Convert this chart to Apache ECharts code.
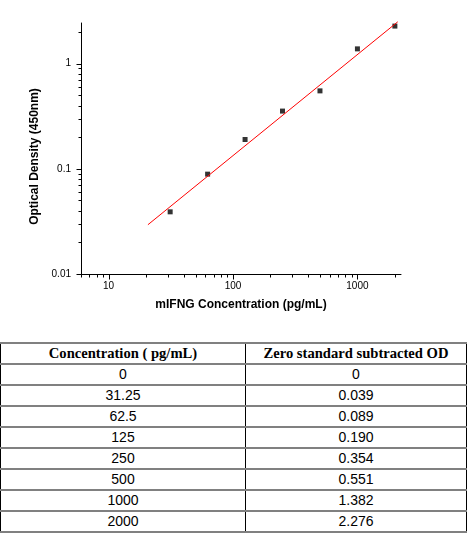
<!DOCTYPE html>
<html>
<head>
<meta charset="utf-8">
<script src="https://cdn.jsdelivr.net/npm/echarts@6/dist/echarts.min.js"></script>
<style>
body { margin: 0; background: #fff; }
#chart { position: absolute; left: 0; top: 0; width: 468px; height: 335px; }
#tab { position: absolute; left: 0; top: 342px; border-collapse: collapse; font-family: "Liberation Sans", Arial, sans-serif; font-size: 14px; color: #000; }
#tab td { height: 19px; padding: 0; text-align: center; border-top: 2px solid #808080; border-bottom: 2px solid #808080; border-left: 1px solid #000; border-right: 1px solid #000; line-height: 19px; }
#tab tr.head td { font-family: "Liberation Serif", "Times New Roman", serif; font-weight: bold; font-size: 14.6px; }
</style>
</head>
<body>
<div id="chart"></div>
<table id="tab"></table>
<script>
// standard curve data
var conc = [0, 31.25, 62.5, 125, 250, 500, 1000, 2000];
var od = [0, 0.039, 0.089, 0.190, 0.354, 0.551, 1.382, 2.276];
// fitted line end points
var fitX = [20.7, 2110];
var fitY = [0.0294, 2.5];
var headers = ['Concentration ( pg/mL)', 'Zero standard subtracted OD'];
var xMin = 6, xMax = 2240;
var yMin = 0.01, yMax = 2.435;

var points = [];
for (var i = 0; i < conc.length; i++) {
    if (conc[i] > 0) points.push([conc[i], od[i]]);
}
var fitLine = [[fitX[0], fitY[0]], [fitX[1], fitY[1]]];

var myChart = echarts.init(document.getElementById('chart'));
var option = {
    animation: false,
    grid: { left: 81, top: 23, right: 67, bottom: 61 },
    xAxis: {
        type: 'log',
        min: xMin,
        max: xMax,
        name: 'mIFNG Concentration (pg/mL)',
        nameLocation: 'middle',
        nameGap: 25,
        nameTextStyle: { fontFamily: 'Liberation Sans', fontWeight: 'bold', fontSize: 12, color: '#000' },
        axisLine: { lineStyle: { color: '#000', width: 1 } },
        axisTick: { show: false },
        splitLine: { show: false },
        axisLabel: {
            margin: 7,
            fontFamily: 'Liberation Sans',
            fontSize: 10,
            color: '#000',
            showMinLabel: false,
            showMaxLabel: false,
            formatter: function (v) { return String(v); }
        }
    },
    yAxis: {
        type: 'log',
        min: yMin,
        max: yMax,
        name: 'Optical Density (450nm)',
        nameLocation: 'middle',
        nameGap: 34,
        nameTextStyle: { fontFamily: 'Liberation Sans', fontWeight: 'bold', fontSize: 12, color: '#000', padding: [0, 0, 0, -16] },
        axisLine: { lineStyle: { color: '#000', width: 1 } },
        axisTick: { show: false },
        splitLine: { show: false },
        axisLabel: {
            margin: 10,
            fontFamily: 'Liberation Sans',
            fontSize: 10,
            color: '#000',
            showMaxLabel: false,
            formatter: function (v) { return String(v); }
        }
    },
    series: [
        {
            type: 'line',
            data: fitLine,
            symbol: 'none',
            clip: false,
            lineStyle: { color: '#ff0000', width: 1 }
        },
        {
            type: 'scatter',
            data: points,
            symbol: 'rect',
            symbolSize: 5,
            itemStyle: { color: '#000' }
        }
    ]
};
myChart.setOption(option);

// log ticks (1..9 per decade), drawn through the axis scales
var ticks = [];
var origin = myChart.convertToPixel({ gridIndex: 0 }, [xMin, yMin]);
var ax = Math.round(origin[0]) + 0.5;
var ay = Math.round(origin[1]) + 0.5;
for (var k = -3; k <= 4; k++) {
    for (var m = 1; m <= 9; m++) {
        var v = m * Math.pow(10, k);
        var len = m === 1 ? 5 : 3;
        if (v >= xMin && v <= xMax) {
            var px = Math.round(myChart.convertToPixel({ xAxisIndex: 0 }, v)) + 0.5;
            ticks.push({ type: 'line', shape: { x1: px, y1: ay, x2: px, y2: ay + len }, style: { stroke: '#000', lineWidth: 1 } });
        }
        if (v >= yMin && v <= yMax) {
            var py = Math.round(myChart.convertToPixel({ yAxisIndex: 0 }, v)) + 0.5;
            ticks.push({ type: 'line', shape: { x1: ax, y1: py, x2: ax - len, y2: py }, style: { stroke: '#000', lineWidth: 1 } });
        }
    }
}
myChart.setOption({ graphic: ticks });

// data table
var oTab = document.getElementById('tab');
var html = '<tr class="head"><td style="width:244px">' + headers[0] + '</td><td style="width:220px">' + headers[1] + '</td></tr>';
for (var j = 0; j < conc.length; j++) {
    html += '<tr><td>' + conc[j] + '</td><td>' + (od[j] === 0 ? '0' : od[j].toFixed(3)) + '</td></tr>';
}
oTab.innerHTML = html;
</script>
</body>
</html>
